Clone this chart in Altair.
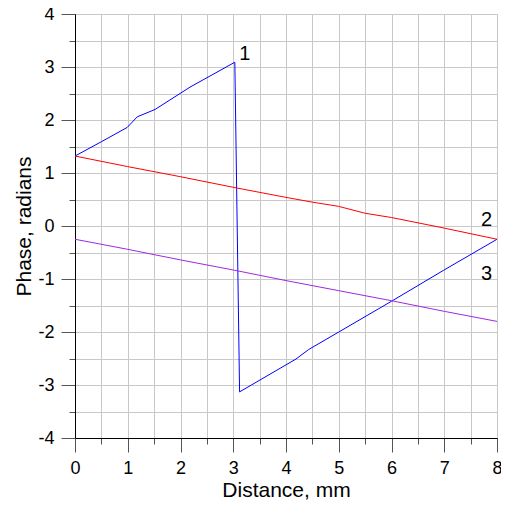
import altair as alt
import pandas as pd

# Curve 1 (blue)
blue_x = [0, 0.5, 0.99, 1.18, 1.52, 2.18, 3.03, 3.12, 4.19, 4.43, 5.0, 6.0, 6.98, 8.0]
blue_y = [1.32, 1.59, 1.86, 2.06, 2.2, 2.62, 3.09, -3.13, -2.51, -2.33, -2.0, -1.42, -0.84, -0.25]
# Curve 2 (red)
red_x = [0, 1, 2, 3, 4, 4.5, 5, 5.5, 6, 7, 8]
red_y = [1.32, 1.12, 0.93, 0.73, 0.54, 0.45, 0.37, 0.24, 0.16, -0.04, -0.25]
# Curve 3 (purple)
purple_x = [0, 1, 2, 3, 4, 5, 6, 7, 8]
purple_y = [-0.25, -0.44, -0.64, -0.83, -1.03, -1.22, -1.41, -1.61, -1.8]

series_names = ["1", "2", "3"]
series_colors = ["#0000ff", "#ff0000", "#a028e0"]

label_text = ["1", "2", "3"]
label_x = [3.22, 7.8, 7.8]
label_y = [3.24, 0.12, -0.9]

x_major = [0, 1, 2, 3, 4, 5, 6, 7, 8]
x_minor = [i * 0.5 for i in range(17)]
y_major = [-4, -3, -2, -1, 0, 1, 2, 3, 4]
y_minor = [-4 + i * 0.5 for i in range(17)]

rows = []
for name, xs, ys in zip(series_names, [blue_x, red_x, purple_x], [blue_y, red_y, purple_y]):
    for i, (a, b) in enumerate(zip(xs, ys)):
        rows.append({"series": name, "x": a, "y": b, "i": i})
df = pd.DataFrame(rows)
lab = pd.DataFrame({"t": label_text, "x": label_x, "y": label_y})

FONT = "Liberation Sans"
xscale = alt.Scale(domain=[0, 8], nice=False, zero=False)
yscale = alt.Scale(domain=[-4, 4], nice=False, zero=False)
LBL = "'' + datum.value"

lines = alt.Chart(df).mark_line(strokeWidth=1).encode(
    x=alt.X("x:Q", scale=xscale,
            axis=alt.Axis(values=x_minor, grid=True, gridColor="#c8c8c8", gridWidth=1,
                          tickSize=6, tickColor="#555555", labels=False, title=None,
                          domain=False, orient="bottom")),
    y=alt.Y("y:Q", scale=yscale,
            axis=alt.Axis(values=y_minor, grid=True, gridColor="#c8c8c8", gridWidth=1,
                          tickSize=6, tickColor="#555555", labels=False, title=None,
                          domain=False, orient="left")),
    color=alt.Color("series:N", scale=alt.Scale(domain=series_names, range=series_colors), legend=None),
    order="i:Q",
)

texts = alt.Chart(lab).mark_text(font=FONT, fontSize=20, color="black").encode(
    x=alt.X("x:Q", scale=xscale,
            axis=alt.Axis(values=x_major, grid=False, tickSize=14, tickColor="#555555",
                          domainColor="black", labelFont=FONT, labelFontSize=18,
                          labelColor="black", labelPadding=7, labelFlush=False,
                          labelExpr=LBL,
                          title="Distance, mm", titleFont=FONT, titleFontSize=21,
                          titleFontWeight="normal", titleColor="black", titlePadding=2,
                          orient="bottom")),
    y=alt.Y("y:Q", scale=yscale,
            axis=alt.Axis(values=y_major, grid=False, tickSize=14, tickColor="#555555",
                          domainColor="black", labelFont=FONT, labelFontSize=18,
                          labelColor="black", labelPadding=7, labelFlush=False,
                          labelExpr=LBL,
                          title="Phase, radians", titleFont=FONT, titleFontSize=21,
                          titleFontWeight="normal", titleColor="black", titlePadding=3,
                          orient="left")),
    text="t:N",
)

chart = alt.layer(lines, texts).resolve_axis(x="independent", y="independent").properties(
    width=422, height=424,
    autosize=alt.AutoSizeParams(type="none"),
    padding={"left": 67, "top": 6, "right": 4, "bottom": 64},
).configure_view(stroke=None).configure(background="white")

chart.save("out.html", embed_options={"renderer": "svg", "actions": False})
